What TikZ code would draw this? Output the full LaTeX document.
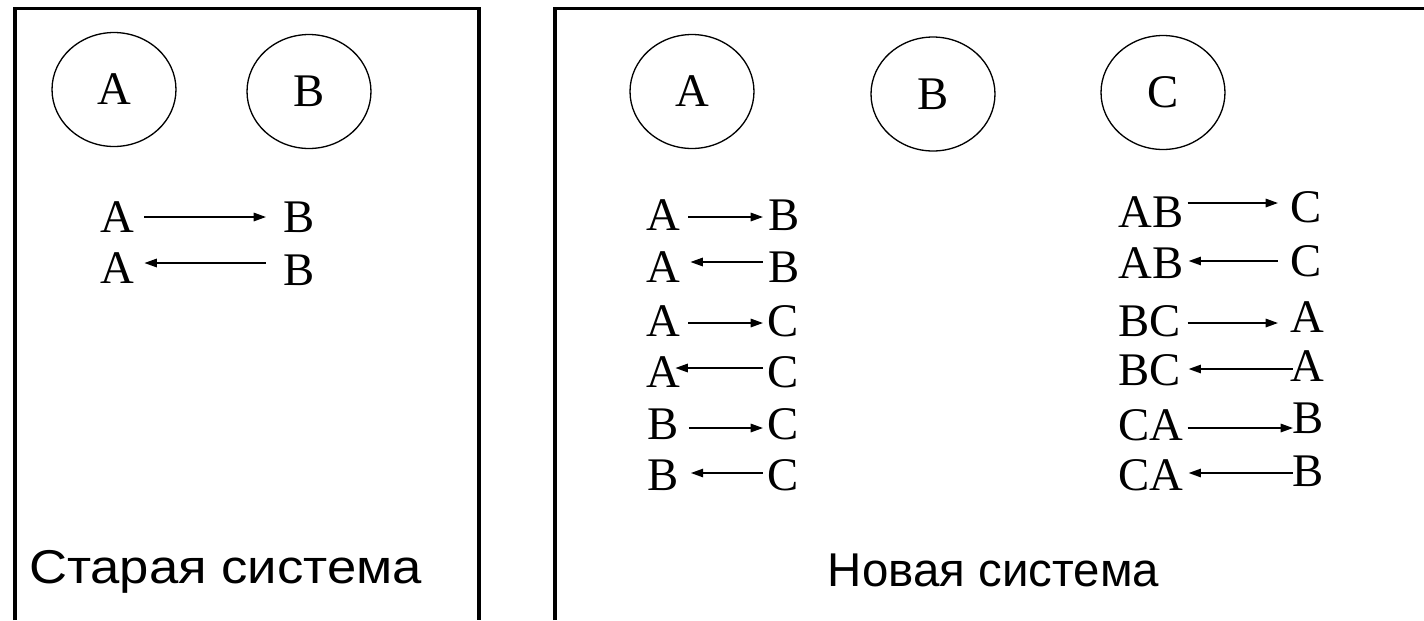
\documentclass[tikz,border=0pt]{standalone}
\usepackage{graphicx}
\usepackage{fontspec}
\setmainfont{Liberation Serif}
\newfontfamily\labelfont{Liberation Sans}
\usetikzlibrary{arrows.meta,shapes.geometric,calc}

% horizontal connector between two letter nodes at height #6,
% #3 = gap after the source, #5 = gap before the target
\newcommand\link[6]{\draw[#1] ($(#2.east |- 0,#6)+(#3,0)$) -- ($(#4.west |- 0,#6)+(-#5,0)$);}

\begin{document}
\begin{tikzpicture}[x=0.02cm,y=-0.02cm,
  frame/.style={line width=2.1pt, line join=miter},
  proc/.style={draw, ellipse, line width=0.75pt, minimum width=2.48cm,
    minimum height=2.28cm, inner sep=0pt, font=\fontsize{26.6}{30}\selectfont},
  ltr/.style={inner sep=0pt, anchor=west, font=\fontsize{26.6}{30}\selectfont},
  arr/.style={line width=0.9pt, -{Triangle[length=7pt,width=4.8pt]}},
  arl/.style={line width=0.9pt, {Triangle[length=7pt,width=4.8pt]}-},
  caption/.style={font=\labelfont\fontsize{27}{32}\selectfont, anchor=base}]
\useasboundingbox (0,0) rectangle (1424,620);

% frames of the two panels
\draw[frame] (15,620) -- (15,8.5) -- (479,8.5) -- (479,620);
\draw[frame] (555,620) -- (555,8.5) -- (1424,8.5);

% old system: processes
\node[proc] (oa) at (114,89.5) {A};
\node[proc] (ob) at (309,91.5) {B};

% old system: links
\node[ltr] (la1) at (100,217) {A};
\node[ltr] (lb1) at (283,217) {B};
\link{arr}{la1}{10}{lb1}{17}{217}
\node[ltr] (la2) at (100,268) {A};
\node[ltr] (lb2) at (283,270) {B};
\link{arl}{la2}{10}{lb2}{17}{263}

% new system: processes
\node[proc] (na) at (692,91.5) {A};
\node[proc] (nb) at (933,94) {B};
\node[proc] (nc) at (1163,92.5) {C};

% new system: pairwise links
\node[ltr] (m1a) at (646,215) {A};
\node[ltr] (m1b) at (768,215) {B};
\link{arr}{m1a}{8}{m1b}{5}{217}
\node[ltr] (m2a) at (646,267) {A};
\node[ltr] (m2b) at (768,267) {B};
\link{arl}{m2a}{10}{m2b}{5}{262}
\node[ltr] (m3a) at (646,321) {A};
\node[ltr] (m3b) at (767,321) {C};
\link{arr}{m3a}{8}{m3b}{4}{323}
\node[ltr] (m4a) at (646,372) {A};
\node[ltr] (m4b) at (767,372) {C};
\link{arl}{m4a}{-5}{m4b}{4}{368}
\node[ltr] (m5a) at (647,424) {B};
\node[ltr] (m5b) at (767,424) {C};
\link{arr}{m5a}{10}{m5b}{4}{428}
\node[ltr] (m6a) at (647,475) {B};
\node[ltr] (m6b) at (767,475) {C};
\link{arl}{m6a}{12}{m6b}{4}{473}

% new system: group links
\node[ltr] (r1a) at (1118,212) {AB};
\node[ltr] (r1b) at (1290.5,207) {C};
\link{arr}{r1a}{4}{r1b}{12.5}{203}
\node[ltr] (r2a) at (1118,263) {AB};
\node[ltr] (r2b) at (1290.5,261) {C};
\link{arl}{r2a}{5}{r2b}{12.5}{261}
\node[ltr] (r3a) at (1118,321) {BC};
\node[ltr] (r3b) at (1290,317) {A};
\link{arr}{r3a}{6.6}{r3b}{12}{323}
\node[ltr] (r4a) at (1118,370) {BC};
\node[ltr] (r4b) at (1290,366) {A};
\link{arl}{r4a}{7.6}{r4b}{-3}{369}
\node[ltr] (r5a) at (1118,425) {CA};
\node[ltr] (r5b) at (1292,418) {B};
\link{arr}{r5a}{4}{r5b}{-1}{428}
\node[ltr] (r6a) at (1118,475) {CA};
\node[ltr] (r6b) at (1292,471) {B};
\link{arl}{r6a}{5}{r6b}{-1}{473}

% panel captions
\node[caption] (oldcap) at (225.5,583) {\scalebox{1.11}[1]{Старая система}};
\node[caption] (newcap) at (993.5,586) {Новая система};
\end{tikzpicture}
\end{document}
